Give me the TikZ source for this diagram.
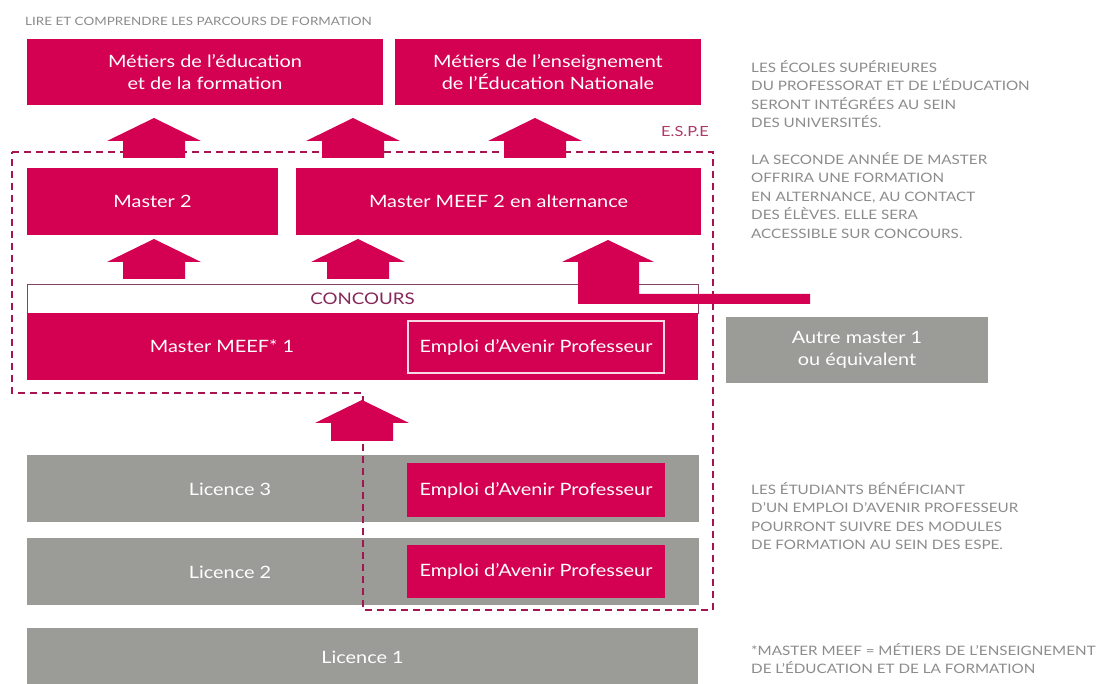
\documentclass[tikz,border=0pt]{standalone}
\usepackage{fontspec}
\setmainfont{Lato}[FakeStretch=1.17]
\definecolor{crim}{RGB}{212,0,82}
\definecolor{boxgray}{RGB}{155,155,152}
\definecolor{txtgray}{RGB}{140,140,140}
\definecolor{dashcol}{RGB}{165,20,80}
\definecolor{concol}{RGB}{135,40,90}
\newcommand\fatarrow[3]{\fill[crim] (#1,#2) -- ++(47,23) -- ++(-16,0) -- (#1+31,#3) -- (#1-31,#3) -- (#1-31,#2+23) -- (#1-47,#2+23) -- cycle;}
\begin{document}
\begin{tikzpicture}[x=1pt,y=-1pt,
  redbox/.style={fill=crim, text=white, inner sep=0, align=center, font=\fontsize{17}{22}\selectfont},
  graybox/.style={fill=boxgray, text=white, inner sep=0, align=center, font=\fontsize{17}{22}\selectfont},
  lbl/.style={text=white, inner sep=0, font=\fontsize{17}{22}\selectfont},
  note/.style={text=txtgray, inner sep=0, align=left, anchor=north west, font=\fontsize{13}{18.5}\selectfont},
  espe/.style={draw=dashcol, line width=2.5pt, dash pattern=on 7pt off 5pt}]
\useasboundingbox[fill=white] (0,0) rectangle (1112,684);

\node[text=txtgray, inner sep=0, anchor=west, font=\fontsize{11.5}{14}\selectfont] (title) at (25,21) {LIRE ET COMPRENDRE LES PARCOURS DE FORMATION};

% top boxes
\node[redbox, minimum width=356, minimum height=66] (metedu) at (205,72) {Métiers de l’éducation\\et de la formation};
\node[redbox, minimum width=306, minimum height=66] (metens) at (548,72) {Métiers de l’enseignement\\de l’Éducation Nationale};

% masters 2
\node[redbox, minimum width=251, minimum height=67] (m2) at (152.5,201.5) {Master 2};
\node[redbox, minimum width=405, minimum height=67] (meef2) at (498.5,201.5) {Master MEEF 2 en alternance};

% concours + master 1
\node[draw=concol!70!gray, line width=0.8pt, fill=white, minimum width=671, minimum height=29, inner sep=0, text=concol, font=\fontsize{16}{20}\selectfont] (concours) at (362.5,298.5) {CONCOURS};
\node[redbox, minimum width=671, minimum height=67] (meef1) at (362.5,346.5) {};
\node[lbl] (meef1t) at (222,346) {Master MEEF* 1};
\node[draw=white!85!crim, line width=1.5pt, fill=crim, text=white, inner sep=0, minimum width=256, minimum height=52, font=\fontsize{17}{22}\selectfont] (eap1) at (536,347) {Emploi d’Avenir Professeur};
\node[graybox, minimum width=262, minimum height=66] (autre) at (857,350) {Autre master 1\\ou équivalent};

% licences
\node[graybox, minimum width=672, minimum height=67] (l3) at (363,488.5) {};
\node[lbl] (l3t) at (230,489) {Licence 3};
\node[redbox, minimum width=258, minimum height=54] (eap3) at (536,490) {Emploi d’Avenir Professeur};
\node[graybox, minimum width=672, minimum height=67] (l2) at (363,571.5) {};
\node[lbl] (l2t) at (230,572) {Licence 2};
\node[redbox, minimum width=258, minimum height=53] (eap2) at (536,571.5) {Emploi d’Avenir Professeur};
\node[graybox, minimum width=671, minimum height=58] (l1) at (362.5,657) {Licence 1};

% ESPE frame
\draw[espe] (12,152) -- (713,152) -- (713,610) -- (363,610) -- (363,393) -- (12,393) -- cycle;
\node[text=crim!55!gray, inner sep=0, font=\fontsize{14}{16}\selectfont] (espet) at (685,131) {E.S.P.E};

% arrows
\fatarrow{154}{118}{158}
\fatarrow{353}{118}{158}
\fatarrow{535}{118}{158}
\fatarrow{154}{239}{279}
\fatarrow{358}{239}{279}
\fatarrow{362}{400}{441}
\fill[crim] (608,240) -- (654,262) -- (639,262) -- (639,294) -- (810,294) -- (810,304) -- (578,304) -- (578,262) -- (562,262) -- cycle;

% notes
\node[note] (n1) at (751,60) {LES ÉCOLES SUPÉRIEURES\\DU PROFESSORAT ET DE L’ÉDUCATION\\SERONT INTÉGRÉES AU SEIN\\DES UNIVERSITÉS.};
\node[note] (n2) at (751,152) {LA SECONDE ANNÉE DE MASTER\\OFFRIRA UNE FORMATION\\EN ALTERNANCE, AU CONTACT\\DES ÉLÈVES. ELLE SERA\\ACCESSIBLE SUR CONCOURS.};
\node[note] (n3) at (751,482) {LES ÉTUDIANTS BÉNÉFICIANT\\D’UN EMPLOI D’AVENIR PROFESSEUR\\POURRONT SUIVRE DES MODULES\\DE FORMATION AU SEIN DES ESPE.};
\node[note] (n4) at (751,643) {*MASTER MEEF = MÉTIERS DE L’ENSEIGNEMENT\\DE L’ÉDUCATION ET DE LA FORMATION};
\end{tikzpicture}
\end{document}
